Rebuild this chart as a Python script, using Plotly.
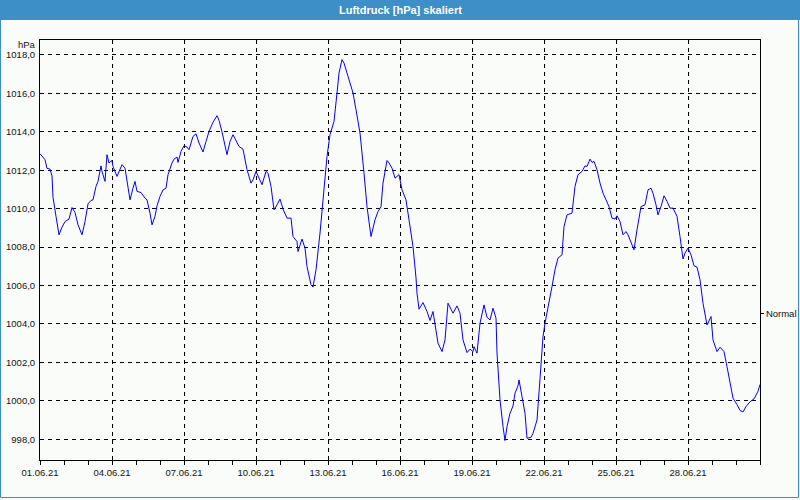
import plotly.graph_objects as go
from datetime import datetime, timedelta

TITLE = "Luftdruck [hPa] skaliert"
UNIT = "hPa"
START = datetime(2021, 6, 1)
END = datetime(2021, 7, 1)

# hours since 01.06.21 00:00
hours = [0, 5, 7, 10, 12, 13, 16, 19, 22, 25, 29, 32, 35, 38, 42, 45, 48, 51, 53, 56,
         58, 61, 62, 65, 67, 69, 72, 73, 77, 82, 85, 87, 90, 93, 95, 97, 101, 105, 107, 110,
         112, 115, 117, 120, 123, 126, 128, 132, 134, 137, 138, 141, 144, 147, 149, 153, 156, 159, 163, 166,
         169, 173, 177, 179, 182, 187, 190, 193, 197, 199, 203, 207, 211, 213, 216, 218, 222, 226, 228, 231,
         234, 237, 240, 243, 247, 251, 253, 257, 258, 262, 265, 267, 271, 273, 276, 280, 284, 287, 290, 294,
         297, 299, 302, 304, 308, 313, 316, 320, 324, 327, 331, 335, 338, 341, 343, 347, 349, 352, 355, 359,
         362, 366, 369, 373, 376, 377, 379, 383, 387, 390, 393, 396, 398, 402, 405, 408, 413, 417, 420, 423,
         427, 430, 433, 434, 437, 440, 444, 447, 450, 453, 456, 457, 460, 463, 465, 467, 470, 473, 475, 478,
         479, 482, 485, 487, 491, 493, 497, 500, 503, 505, 508, 512, 515, 518, 522, 524, 527, 532, 535, 538,
         542, 545, 547, 550, 552, 554, 557, 560, 563, 567, 569, 572, 575, 577, 580, 583, 586, 588, 591, 594,
         597, 601, 605, 608, 611, 613, 616, 618, 621, 624, 627, 630, 633, 637, 640, 643, 645, 648, 651, 654,
         657, 660, 663, 667, 668, 671, 673, 677, 680, 684, 687, 691, 693, 697, 700, 703, 706, 710, 714, 718,
         720]

pressure = [1012.86, 1012.55, 1012.10, 1012.06, 1011.70, 1010.60, 1009.60, 1008.64, 1009.04, 1009.33,
            1009.46, 1010.06, 1009.80, 1009.16, 1008.64, 1009.33, 1010.25, 1010.43, 1010.46, 1011.16,
            1011.42, 1012.23, 1011.94, 1011.42, 1012.81, 1012.38, 1012.51, 1012.20, 1011.68, 1012.29,
            1012.11, 1011.42, 1010.46, 1011.07, 1011.42, 1010.90, 1010.84, 1010.55, 1010.46, 1009.77,
            1009.16, 1009.60, 1010.15, 1010.64, 1010.98, 1011.07, 1011.77, 1012.38, 1012.58, 1012.69,
            1012.41, 1012.98, 1013.28, 1013.21, 1013.07, 1013.76, 1013.90, 1013.42, 1012.95, 1013.50,
            1014.02, 1014.50, 1014.84, 1014.60, 1014.00, 1012.81, 1013.50, 1013.85, 1013.42, 1013.24,
            1013.10, 1012.03, 1011.33, 1011.50, 1011.94, 1011.68, 1011.25, 1011.94, 1011.85, 1011.16,
            1009.94, 1010.20, 1010.50, 1009.98, 1009.51, 1009.51, 1008.55, 1008.29, 1007.77, 1008.42,
            1007.95, 1006.99, 1006.04, 1005.92, 1006.82, 1008.73, 1011.16, 1012.72, 1013.85, 1014.54,
            1016.02, 1017.06, 1017.76, 1017.58, 1016.89, 1016.02, 1015.15, 1013.94, 1011.85, 1010.11,
            1008.55, 1009.42, 1009.85, 1010.11, 1011.33, 1012.51, 1012.38, 1012.11, 1011.59, 1011.77,
            1010.98, 1010.46, 1009.42, 1008.03, 1006.40, 1005.60, 1004.77, 1005.11, 1004.65, 1004.18,
            1004.65, 1003.69, 1003.00, 1002.56, 1003.17, 1005.08, 1004.56, 1004.94, 1004.56, 1003.17,
            1002.51, 1002.69, 1002.56, 1002.82, 1002.48, 1004.04, 1004.99, 1004.35, 1004.21, 1004.82,
            1004.30, 1002.48, 1000.05, 998.66, 997.93, 998.66, 999.35, 999.73, 1000.40, 1000.78,
            1001.09, 1000.22, 999.35, 998.05, 998.10, 998.31, 999.00, 1001.15, 1003.34, 1004.04,
            1004.80, 1005.95, 1006.82, 1007.43, 1007.60, 1009.07, 1009.68, 1009.77, 1011.16, 1011.77,
            1011.94, 1012.23, 1012.20, 1012.58, 1012.41, 1012.46, 1012.03, 1011.33, 1010.81, 1010.29,
            1010.11, 1009.51, 1009.46, 1009.63, 1009.33, 1008.64, 1008.81, 1008.64, 1008.29, 1007.86,
            1008.90, 1010.11, 1010.20, 1010.98, 1011.07, 1010.81, 1010.20, 1009.68, 1010.11, 1010.67,
            1010.38, 1010.03, 1010.03, 1009.60, 1008.55, 1007.38, 1007.69, 1007.95, 1007.60, 1007.03,
            1006.96, 1006.30, 1005.08, 1003.95, 1004.04, 1004.39, 1003.17, 1002.56, 1002.79, 1002.56,
            1001.78, 1000.74, 1000.14, 999.80, 999.50, 999.42, 999.70, 999.95, 1000.10, 1000.50,
            1000.85]

x_tick_days = [0, 3, 6, 9, 12, 15, 18, 21, 24, 27]
x_tick_labels = ["01.06.21", "04.06.21", "07.06.21", "10.06.21", "13.06.21",
                 "16.06.21", "19.06.21", "22.06.21", "25.06.21", "28.06.21"]
y_ticks = [998, 1000, 1002, 1004, 1006, 1008, 1010, 1012, 1014, 1016, 1018]
y_tick_labels = ["998,0", "1000,0", "1002,0", "1004,0", "1006,0", "1008,0",
                 "1010,0", "1012,0", "1014,0", "1016,0", "1018,0"]
Y_RANGE = [996.92, 1018.78]
NORMAL_VALUE = 1004.56
NORMAL_LABEL = "Normal"

times = [START + timedelta(hours=h) for h in hours]
x_tick_vals = [START + timedelta(days=d) for d in x_tick_days]

FONT = "Liberation Sans, Arial, sans-serif"
TXT = "#111111"
BLUE_BAR = "#3C8FC7"
BG = "#FAFCFA"

W, H = 800, 500
ML, MR, MT, MB = 40, 40, 40, 40
PW, PH = W - ML - MR, H - MT - MB


def px_x(p):
    return (p - ML) / PW


def px_y(p):
    return (H - MB - p) / PH


fig = go.Figure()
fig.add_trace(go.Scatter(x=times, y=pressure, mode="lines",
                         line=dict(color="#0000FF", width=1),
                         showlegend=False, hoverinfo="skip"))
fig.add_trace(go.Scatter(x=[times[0]], y=[NORMAL_VALUE], yaxis="y2", mode="markers",
                         marker=dict(opacity=0), showlegend=False, hoverinfo="skip"))

fig.update_layout(
    width=W, height=H,
    margin=dict(l=ML, r=MR, t=MT, b=MB, pad=0, autoexpand=False),
    paper_bgcolor=BG, plot_bgcolor=BG,
    font=dict(family=FONT, size=9.5, color=TXT),
    xaxis=dict(
        type="date", range=[START, END], automargin=False,
        tickvals=x_tick_vals, ticktext=x_tick_labels,
        ticks="outside", ticklen=4, tickcolor="black", tickwidth=1,
        showgrid=True, gridcolor="black", gridwidth=1, griddash="4px,4px",
        showline=True, linecolor="black", linewidth=1, mirror=True,
        zeroline=False,
        minor=dict(dtick=86400000, tick0=START, ticks="outside", ticklen=4,
                   tickcolor="black", showgrid=False),
        tickfont=dict(family=FONT, size=9.5, color=TXT),
    ),
    yaxis=dict(
        range=Y_RANGE, tickvals=y_ticks, ticktext=y_tick_labels, automargin=False,
        ticks="", showgrid=True, gridcolor="black", gridwidth=1, griddash="4px,4px",
        showline=True, linecolor="black", linewidth=1, mirror=True,
        zeroline=False, ticklabelstandoff=2,
        tickfont=dict(family=FONT, size=9.5, color=TXT),
    ),
    yaxis2=dict(
        overlaying="y", side="right", range=Y_RANGE, automargin=False,
        tickvals=[NORMAL_VALUE], ticktext=[NORMAL_LABEL],
        ticks="outside", ticklen=3, tickcolor="black",
        showgrid=False, showline=False, zeroline=False,
        tickfont=dict(family=FONT, size=9.5, color=TXT),
    ),
    shapes=[
        dict(type="rect", xref="paper", yref="paper",
             x0=px_x(-2), x1=px_x(W + 2), y0=px_y(20), y1=px_y(-2),
             fillcolor=BLUE_BAR, line=dict(width=0)),
        dict(type="rect", xref="paper", yref="paper",
             x0=px_x(0.5), x1=px_x(798.5), y0=px_y(497.5), y1=px_y(0),
             fillcolor="rgba(0,0,0,0)", line=dict(color=BLUE_BAR, width=1)),
    ],
    annotations=[
        dict(text="<b>" + TITLE + "</b>", xref="paper", yref="paper",
             x=0.5, y=px_y(10), xanchor="center", yanchor="middle",
             showarrow=False, font=dict(family=FONT, size=11, color="white")),
        dict(text=UNIT, xref="paper", yref="paper",
             x=0, y=px_y(45), xanchor="right", yanchor="middle", xshift=-2,
             showarrow=False, font=dict(family=FONT, size=9.5, color=TXT)),
    ],
)

fig.write_html("out.html", config={"displayModeBar": False},
               post_script="document.body.style.margin='0';")
